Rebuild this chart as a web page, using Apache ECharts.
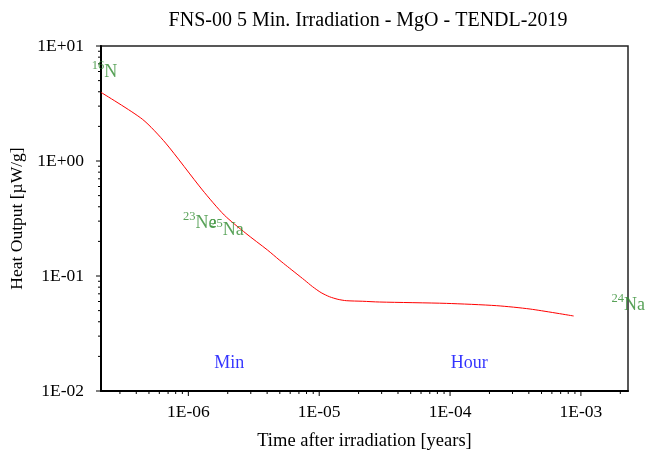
<!DOCTYPE html>
<html>
<head>
<meta charset="utf-8">
<script src="https://cdn.jsdelivr.net/npm/echarts@6/dist/echarts.min.js"></script>
<style>
  html, body { margin: 0; padding: 0; background: #fff; }
  #chart { width: 649px; height: 461px; }
</style>
</head>
<body>
<div id="chart"></div>
<script>
// Decay heat of MgO after a 5 minute FNS-00 irradiation
const times = [2.15e-7, 4.45e-7, 6.71e-7, 1.28e-6, 1.88e-6, 2.75e-6, 4.03e-6, 4.95e-6,
  5.74e-6, 6.65e-6, 7.71e-6, 8.9e-6, 1.035e-5, 1.2e-5, 1.39e-5, 1.61e-5, 2.15e-5,
  2.88e-5, 9.38e-5, 2.27e-4, 4.09e-4, 8.8e-4];
const heat = [3.95, 2.31, 1.43, 0.56, 0.339, 0.235, 0.168, 0.138,
  0.1205, 0.1055, 0.0923, 0.0807, 0.0716, 0.066, 0.0627, 0.061, 0.0603,
  0.0594, 0.0578, 0.0552, 0.0516, 0.0449];

// Dominant nuclides: mass number, element, and where their names sit
const nuclideMass = ['16', '23', '25', '24'];
const nuclideElem = ['N', 'Ne', 'Na', 'Na'];
const nuclideTime = [1.83e-7, 9.1e-7, 1.47e-6, 1.71e-3];
const nuclideHeat = [6.18, 0.301, 0.261, 0.0582];

// Time markers
const markerText = ['Min', 'Hour'];
const markerTime = [2.05e-6, 1.4e-4];
const markerHeat = [0.0175, 0.0175];

const xMin = 2.15e-7, xMax = 2.29e-3;
const yMin = 0.01, yMax = 10;
const xTickLabels = ['1E-06', '1E-05', '1E-04', '1E-03'];
const yTickLabels = ['1E-02', '1E-01', '1E+00', '1E+01'];

const FONT = 'Liberation Serif';

function decadeLabel(v) {
  const e = Math.log10(v);
  const r = Math.round(e);
  if (Math.abs(e - r) > 1e-6) return '';
  const s = (r < 0 ? '-' : '+') + String(Math.abs(r)).padStart(2, '0');
  return '1E' + s;
}

// Tick marks for log axes: major at decades, minor at 2..9
function logTicks(lo, hi) {
  const out = [];
  for (let e = Math.floor(Math.log10(lo)); e <= Math.ceil(Math.log10(hi)); e++) {
    for (let m = 1; m <= 9; m++) {
      const v = m * Math.pow(10, e);
      if (v >= lo * 0.9999 && v <= hi * 1.0001) out.push([v, m === 1 ? 1 : 0]);
    }
  }
  return out;
}
const xTicks = logTicks(xMin, xMax);
const yTicks = logTicks(yMin, yMax);

const chart = echarts.init(document.getElementById('chart'));

chart.setOption({
  animation: false,
  backgroundColor: '#fff',
  title: {
    text: 'FNS-00 5 Min. Irradiation - MgO - TENDL-2019',
    left: 363, textAlign: 'center', top: 6,
    textStyle: { fontFamily: FONT, fontSize: 20, fontWeight: 'normal', color: '#000' }
  },
  grid: {
    left: 101, right: 21, top: 46, bottom: 70,
    show: true, borderColor: '#222', borderWidth: 1.5, backgroundColor: 'transparent'
  },
  xAxis: {
    type: 'log', logBase: 10, min: xMin, max: xMax,
    name: 'Time after irradiation [years]',
    nameLocation: 'middle', nameGap: 41,
    nameTextStyle: { fontFamily: FONT, fontSize: 18.5, color: '#000' },
    axisLine: { show: true, lineStyle: { color: '#000', width: 2 } },
    axisTick: { show: false },
    splitLine: { show: false },
    axisLabel: {
      margin: 12, fontFamily: FONT, fontSize: 17.5, color: '#000',
      showMinLabel: false, showMaxLabel: false,
      formatter: v => { const t = decadeLabel(v); return xTickLabels.includes(t) ? t : ''; }
    }
  },
  yAxis: {
    type: 'log', logBase: 10, min: yMin, max: yMax,
    name: 'Heat Output [\u00b5W/g]',
    nameLocation: 'middle', nameGap: 72,
    nameTextStyle: { fontFamily: FONT, fontSize: 17.5, color: '#000' },
    axisLine: { show: true, lineStyle: { color: '#000', width: 2 } },
    axisTick: { show: false },
    splitLine: { show: false },
    axisLabel: {
      margin: 17, fontFamily: FONT, fontSize: 17.5, color: '#000',
      formatter: v => { const t = decadeLabel(v); return yTickLabels.includes(t) ? t : ''; }
    }
  },
  series: [
    {
      type: 'line',
      data: times.map((t, i) => [t, heat[i]]),
      showSymbol: false, smooth: 0.25,
      lineStyle: { color: '#ff0000', width: 1 },
      z: 3
    },
    {
      type: 'custom', clip: false, silent: true,
      data: xTicks,
      renderItem: (params, api) => {
        const cs = params.coordSys;
        const x = api.coord([api.value(0), yMin])[0];
        const y0 = cs.y + cs.height;
        const len = api.value(1) ? 5 : 3;
        return { type: 'line', shape: { x1: x, y1: y0, x2: x, y2: y0 + len },
          style: { stroke: '#000', lineWidth: 1 } };
      }
    },
    {
      type: 'custom', clip: false, silent: true,
      data: yTicks,
      renderItem: (params, api) => {
        const cs = params.coordSys;
        const y = api.coord([xMin, api.value(0)])[1];
        const x0 = cs.x;
        const len = api.value(1) ? 5 : 3;
        return { type: 'line', shape: { x1: x0, y1: y, x2: x0 - len, y2: y },
          style: { stroke: '#000', lineWidth: 1 } };
      }
    },
    {
      type: 'scatter', clip: false, silent: true, symbolSize: 0,
      data: nuclideTime.map((t, i) => [t, nuclideHeat[i], i]),
      label: {
        show: true, position: 'right', distance: 0,
        formatter: p => '{sup|' + nuclideMass[p.value[2]] + '}{el|' + nuclideElem[p.value[2]] + '}',
        rich: {
          sup: { fontFamily: FONT, fontSize: 12.5, color: '#2e8b2e', verticalAlign: 'top', lineHeight: 22 },
          el: { fontFamily: FONT, fontSize: 18, color: '#2e8b2e', verticalAlign: 'bottom', lineHeight: 22 }
        }
      },
      z: 4
    },
    {
      type: 'scatter', clip: false, silent: true, symbolSize: 0,
      data: markerTime.map((t, i) => [t, markerHeat[i], i]),
      label: {
        show: true, position: 'inside',
        formatter: p => markerText[p.value[2]],
        fontFamily: FONT, fontSize: 18, color: '#0000ff'
      },
      z: 4
    }
  ]
});
</script>
</body>
</html>
